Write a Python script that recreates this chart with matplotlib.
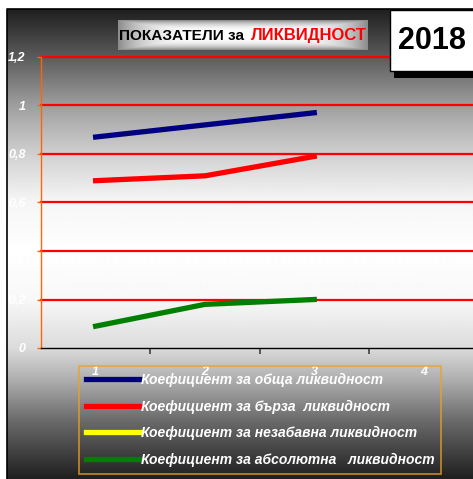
import numpy as np
import matplotlib
matplotlib.use('Agg')
import matplotlib.pyplot as plt
from matplotlib.patches import Rectangle

plt.rcParams['font.family'] = ['Liberation Sans', 'DejaVu Sans']

# data
categories = [1, 2, 3]
obshta = [0.87, 0.92, 0.97]
barza = [0.69, 0.71, 0.79]
nezabavna = []
absolyutna = [0.09, 0.18, 0.20]
series_names = ['Коефициент за обща ликвидност',
                'Коефициент за бърза  ликвидност',
                'Коефициент за незабавна ликвидност',
                'Коефициент за абсолютна   ликвидност']
y_ticks = [0, 0.2, 0.4, 0.6, 0.8, 1.0, 1.2]
y_labels = ['0', '0,2', '', '0,6', '0,8', '1', '1,2']
x_labels = ['1', '2', '3', '4']

W, H = 473, 479
fig = plt.figure(figsize=(W / 100, H / 100), dpi=100)

# background in pixel coords
bg = fig.add_axes([0, 0, 1, 1])
bg.set_xlim(0, W)
bg.set_ylim(H, 0)
bg.axis('off')
stops_y = [9, 57, 105, 155, 200, 250, 300, 348, 380, 420, 479]
stops_v = [0.12, 0.36, 0.62, 0.82, 0.96, 1.0, 0.97, 0.86, 0.68, 0.42, 0.12]
rows = np.interp(np.arange(9, H), stops_y, stops_v)
grad = np.repeat(rows[:, None], 2, axis=1)
bg.imshow(grad, cmap='gray', vmin=0, vmax=1, aspect='auto',
          extent=(7, W, H, 9), interpolation='bilinear')
bg.plot([7, 7, W], [H, 9, 9], color='black', lw=1.2)

# main axes
ax = fig.add_axes([41 / W, (H - 348) / H, 1 - 41 / W, (348 - 57) / H])
ax.patch.set_alpha(0)
ax.set_xlim(0.5, 0.5 + (W - 41) / 109.3)
ax.set_ylim(0, 1.2)
for yv in y_ticks[1:]:
    ax.axhline(yv, color='#ff0000', lw=1.6, zorder=1, clip_on=False)

lw = 3.8
ax.plot(categories, obshta, color='#000080', lw=lw, label=series_names[0], zorder=3)
ax.plot(categories, barza, color='#ff0000', lw=lw, label=series_names[1], zorder=3)
ax.plot(nezabavna, nezabavna, color='#ffff00', lw=lw, label=series_names[2], zorder=3)
ax.plot(categories, absolyutna, color='#008000', lw=lw, label=series_names[3], zorder=3)

for s in ['top', 'right']:
    ax.spines[s].set_visible(False)
ax.spines['left'].set_color('#ff6600')
ax.spines['left'].set_linewidth(1)
ax.spines['bottom'].set_color('black')
ax.spines['bottom'].set_linewidth(1)

ax.set_yticks(y_ticks)
ax.set_yticklabels(y_labels)
ax.tick_params(axis='y', colors='#ff6600', length=3, width=1, pad=8)
for t in ax.get_yticklabels():
    t.set_color('white')
    t.set_fontweight('bold')
    t.set_fontstyle('italic')
    t.set_fontsize(9)

ax.set_xticks([1.5, 2.5, 3.5])
ax.set_xticklabels([])
ax.tick_params(axis='x', which='major', colors='#404040', length=4, width=1.2)
ax.set_xticks([1, 2, 3, 4], minor=True)
ax.set_xticklabels(x_labels, minor=True)
ax.tick_params(axis='x', which='minor', length=0, pad=13)
for t in ax.get_xticklabels(minor=True):
    t.set_color('white')
    t.set_fontweight('bold')
    t.set_fontstyle('italic')
    t.set_fontsize(9)

leg = ax.legend(loc='upper left', bbox_to_anchor=(79 / W, (H - 366) / H),
                bbox_transform=fig.transFigure, borderaxespad=0,
                frameon=True, fancybox=False,
                prop={'weight': 'bold', 'style': 'italic', 'size': 10},
                handlelength=3.9, handletextpad=0.05, labelspacing=0.9,
                borderpad=0.5)
leg.get_frame().set_facecolor('none')
leg.get_frame().set_edgecolor('#f0a020')
leg.get_frame().set_linewidth(1.2)
for t in leg.get_texts():
    t.set_color('white')

# overlay for title and year box
ov = fig.add_axes([0, 0, 1, 1])
ov.set_xlim(0, W)
ov.set_ylim(H, 0)
ov.axis('off')
hx = np.linspace(-1, 1, 200)
vy = np.linspace(-1, 1, 40)
box = 1 - 0.45 * np.maximum(np.abs(hx)[None, :] ** 4, np.abs(vy)[:, None] ** 3)
ov.imshow(box, cmap='gray', vmin=0, vmax=1, aspect='auto',
          extent=(118, 367, 50, 20), interpolation='bilinear')
ov.text(119, 35.5, 'ПОКАЗАТЕЛИ за', color='black', fontsize=11.1,
        fontweight='bold', ha='left', va='center')
ov.text(251, 35.5, 'ЛИКВИДНОСТ', color='#ff0000', fontsize=12,
        fontweight='bold', ha='left', va='center')

ov.add_patch(Rectangle((394, 14), W - 394, 64, facecolor='black', edgecolor='none'))
ov.add_patch(Rectangle((390, 10), W - 390 + 2, 61, facecolor='white',
                       edgecolor='black', lw=1))
ov.text(432, 41, '2018', color='black', fontsize=22, fontweight='bold',
        ha='center', va='center')

fig.savefig('out.png', dpi=100)
